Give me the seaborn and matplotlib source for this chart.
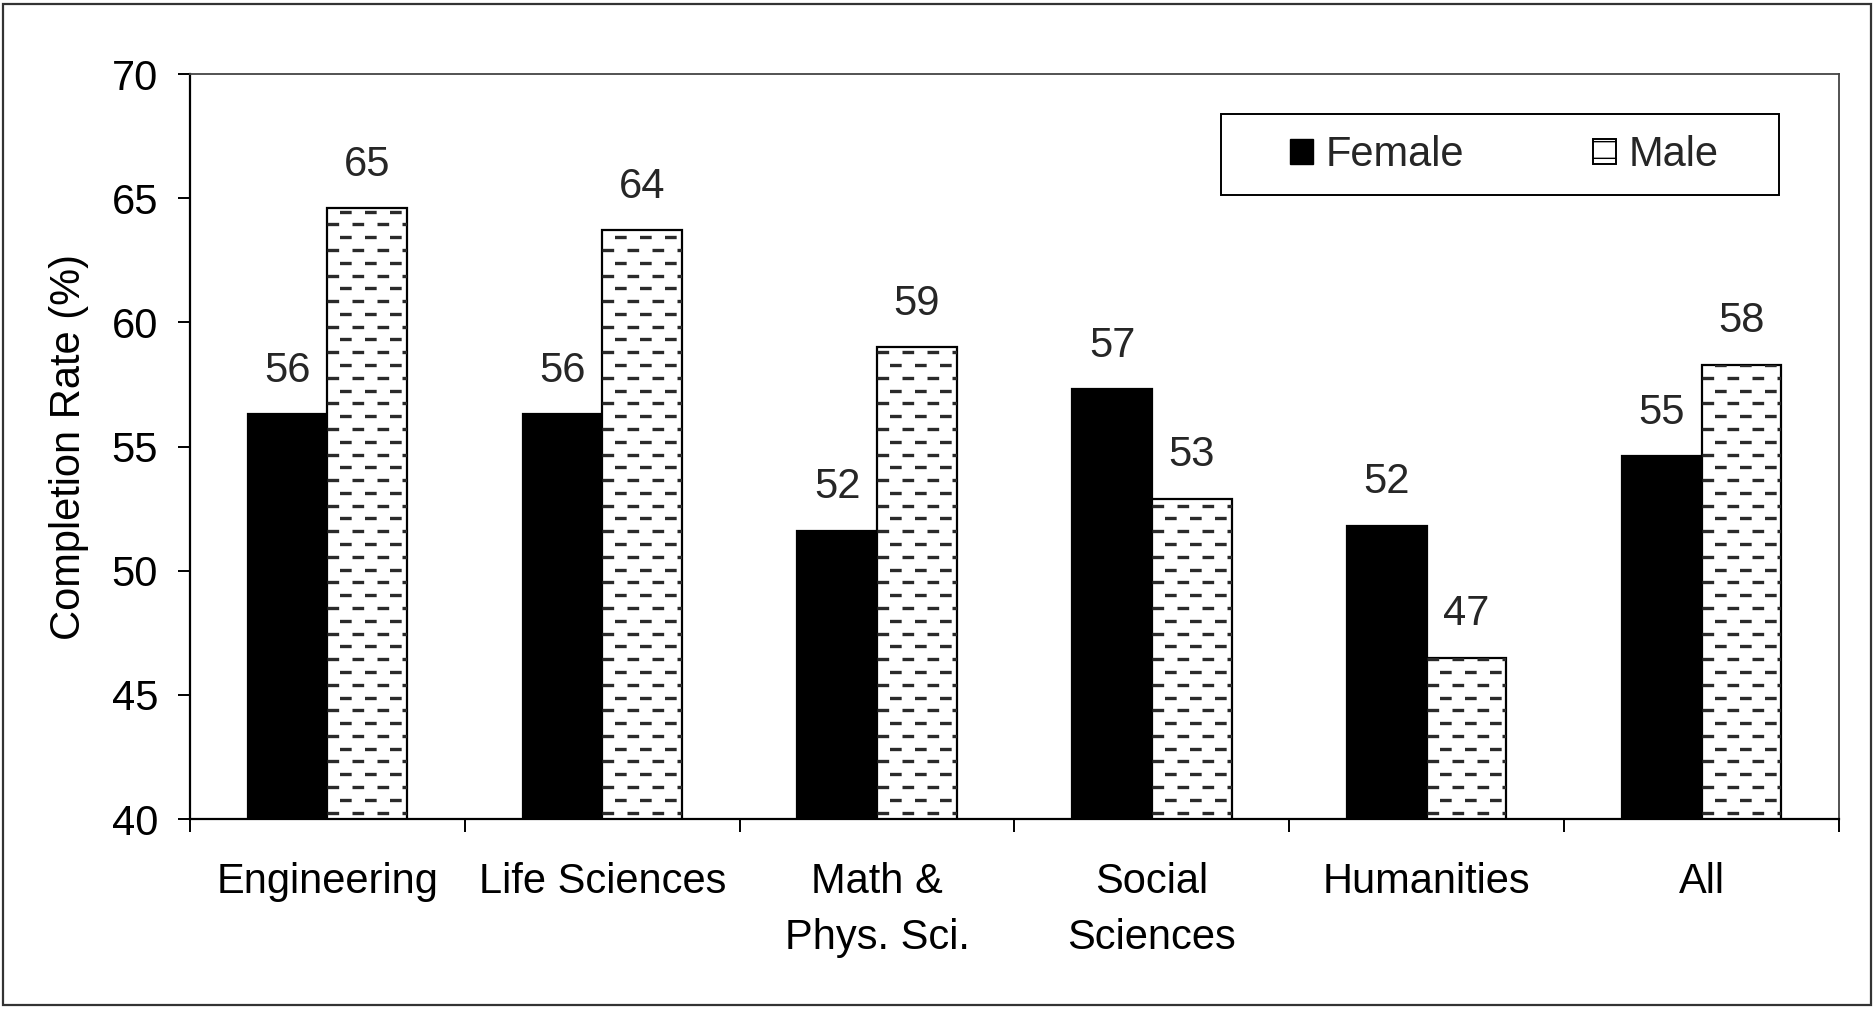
import numpy as np
import pandas as pd
import matplotlib
matplotlib.use("Agg")
import matplotlib.pyplot as plt
from matplotlib.patches import Patch, Rectangle
import seaborn as sns

# values
fields = ["Engineering", "Life Sciences", "Math &\nPhys. Sci.", "Social\nSciences", "Humanities", "All"]
female = [56.3, 56.3, 51.6, 57.3, 51.8, 54.6]
male = [64.6, 63.7, 59.0, 52.9, 46.5, 58.3]
female_labels = ["56", "56", "52", "57", "52", "55"]
male_labels = ["65", "64", "59", "53", "47", "58"]
y_ticks = [40, 45, 50, 55, 60, 65, 70]

df = pd.DataFrame({
    "field": fields * 2,
    "sex": ["Female"] * len(fields) + ["Male"] * len(fields),
    "rate": female + male,
})

sns.set_theme(style="ticks")
plt.rcParams["font.family"] = ["Liberation Sans", "DejaVu Sans"]
plt.rcParams["lines.scale_dashes"] = False
FS = 30

fig = plt.figure(figsize=(18.74, 10.09), dpi=100)
ax = fig.add_axes([0.1014, 0.1883, 0.8799, 0.7383])

sns.barplot(data=df, x="field", y="rate", hue="sex", order=fields,
            hue_order=["Female", "Male"],
            palette={"Female": "black", "Male": "white"},
            width=0.58, saturation=1, edgecolor="black", linewidth=1.6,
            errorbar=None, legend=False, ax=ax)

ax.set_ylim(y_ticks[0], y_ticks[-1])
ax.set_xlim(-0.5, len(fields) - 0.5)
ax.set_yticks(y_ticks)
ax.set_xticks(np.arange(-0.5, len(fields), 1), minor=True)
ax.tick_params(axis="x", which="major", length=0, pad=31, labelsize=FS, colors="black")
ax.tick_params(axis="x", which="minor", length=9, width=1.4, direction="out", color="black")
ax.tick_params(axis="y", length=9, width=1.4, pad=14, labelsize=FS, direction="out", colors="black")
for lbl in ax.get_xticklabels():
    lbl.set_linespacing(1.5)

ax.set_xlabel("")
ax.set_ylabel("Completion Rate (%)", fontsize=FS, labelpad=16, color="black")

for side in ["left", "bottom"]:
    ax.spines[side].set_linewidth(1.6)
    ax.spines[side].set_color("black")
for side in ["top", "right"]:
    ax.spines[side].set_visible(True)
    ax.spines[side].set_linewidth(1.3)
    ax.spines[side].set_color("#444444")

# staggered dash fill for the male bars
step = 0.515
for p in ax.containers[1]:
    x0 = p.get_x()
    x1 = x0 + p.get_width()
    top = p.get_y() + p.get_height()
    rows = np.arange(y_ticks[0] + step * 0.5, top, step)
    for i, y in enumerate(rows):
        off = 0 if i % 2 == 0 else 9
        ln, = ax.plot([x0, x1], [y, y], color="#2a2a2a", lw=2.4,
                      linestyle=(off, (8.4, 9.6)), zorder=p.get_zorder() + 0.1)
        ln.set_clip_path(p)

ax.bar_label(ax.containers[0], labels=female_labels, padding=17, fontsize=FS)
ax.bar_label(ax.containers[1], labels=male_labels, padding=17, fontsize=FS)

# legend
handles = [Patch(facecolor="black", edgecolor="black"),
           Patch(facecolor="white", edgecolor="black", hatch="-", linewidth=1.4)]
ax.legend(handles, ["Female", "Male"], ncol=2, frameon=False, loc="center",
          bbox_to_anchor=(0.797, 0.891), handlelength=0.55, handleheight=0.55,
          handletextpad=0.3, columnspacing=3.1, fontsize=FS)
ax.add_patch(Rectangle((0.625, 0.8376), 0.3386, 0.1094, transform=ax.transAxes,
                       fill=False, edgecolor="black", lw=1.4, clip_on=False))

# outer frame round the whole figure
fig.add_artist(Rectangle((0.0015, 0.004), 0.997, 0.992, transform=fig.transFigure,
                         fill=False, edgecolor="#333333", lw=1.6))

fig.savefig("out.png", dpi=100)
